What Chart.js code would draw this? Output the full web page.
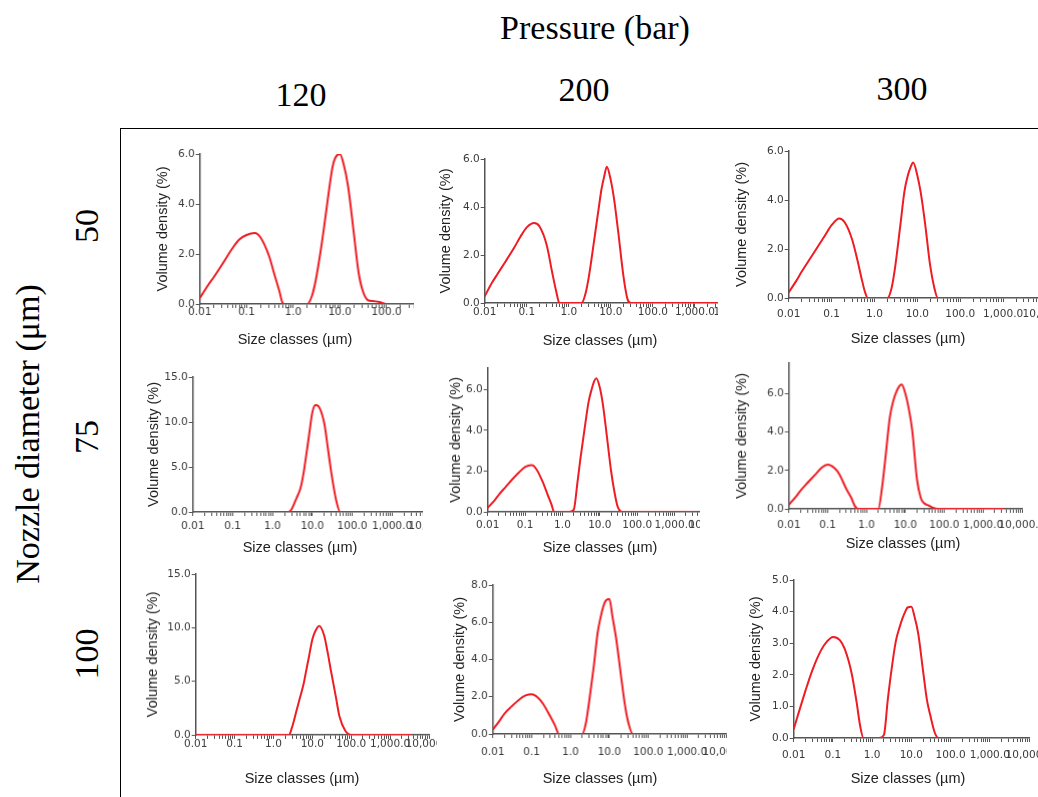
<!DOCTYPE html>
<html>
<head>
<meta charset="utf-8">
<script src="https://cdn.jsdelivr.net/npm/chart.js@4.4.0/dist/chart.umd.min.js"></script>
<style>
    body { margin: 0; background: #fff; width: 1038px; height: 797px; overflow: hidden; position: relative;
           font-family: "Liberation Serif", "Times New Roman", serif; }
    .big { position: absolute; font-size: 34px; line-height: 1; color: #000; white-space: nowrap; transform: translate(-50%, -50%); }
    .rot { transform: translate(-50%, -50%) rotate(-90deg); }
    .frame { position: absolute; left: 120px; top: 128px; width: 1000px; height: 700px;
             border-left: 1.5px solid #000; border-top: 1.5px solid #000; }
    .panel { position: absolute; overflow: hidden; }
    .panel canvas { position: absolute; left: 0; top: 0; }
    .xtitle { position: absolute; font: 14.5px "Liberation Sans", Arial, sans-serif; line-height: 1; color: #222;
              white-space: nowrap; transform: translate(-50%, -50%); }
</style>
</head>
<body>
<div class="frame"></div>
<div class="big" style="left:595px; top:28px;">Pressure (bar)</div>
<div class="big" style="left:301px; top:95px;">120</div>
<div class="big" style="left:584px; top:90px;">200</div>
<div class="big" style="left:902px; top:89px;">300</div>
<div class="big rot" style="left:28px; top:434px;">Nozzle diameter (μm)</div>
<div class="big rot" style="left:87px; top:226px;">50</div>
<div class="big rot" style="left:87px; top:437px;">75</div>
<div class="big rot" style="left:87px; top:654px;">100</div>

<script>
// Size classes (µm), shared by all nine distributions
const sizeClasses = [0.01, 0.015, 0.02, 0.03, 0.05, 0.07, 0.1, 0.15, 0.2, 0.3, 0.4, 0.5, 0.6, 0.7,
    1, 1.5, 2, 2.5, 3, 4, 5, 6, 7, 8, 10, 12, 15, 20, 25, 30, 40, 50, 70, 100, 200, 500, 1000, 3500];

// Volume density (%) — nozzle diameter / pressure
const density_50_120 = [0.24, 0.75, 1.08, 1.58, 2.23, 2.58, 2.76, 2.84, 2.66, 1.95, 1.15, 0.55, 0.03, 0,
    0, 0, 0, 0.3, 0.9, 2.3, 3.6, 4.7, 5.5, 5.85, 6.0, 5.6, 4.7, 2.8, 1.3, 0.6, 0.15, 0.12, 0.08, 0, 0, 0, 0, 0];
const density_50_200 = [0.28, 0.85, 1.2, 1.68, 2.3, 2.75, 3.15, 3.33, 3.2, 2.4, 1.3, 0.5, 0, 0,
    0, 0, 0, 0.4, 1.1, 2.6, 3.8, 4.75, 5.3, 5.68, 5.1, 4.3, 2.95, 1.1, 0.15, 0, 0, 0, 0, 0, 0, 0, 0, 0];
const density_50_300 = [0.23, 0.7, 1.07, 1.55, 2.15, 2.55, 2.97, 3.25, 3.1, 2.4, 1.55, 0.8, 0.25, 0,
    0, 0, 0, 0.4, 1.2, 2.95, 4.35, 5.0, 5.35, 5.53, 5.0, 4.3, 3.1, 1.3, 0.4, 0, 0, 0, 0, 0, 0, 0, 0, 0];
const density_75_120 = [0, 0, 0, 0, 0, 0, 0, 0, 0, 0, 0, 0, 0, 0,
    0, 0, 0, 0, 0.3, 1.55, 2.6, 4.3, 6.3, 8.1, 11.1, 11.9, 11.6, 9.8, 6.8, 4.3, 1.2, 0, 0, 0, 0, 0, 0, 0];
const density_75_200 = [0.2, 0.55, 0.85, 1.22, 1.68, 1.95, 2.2, 2.29, 2.1, 1.45, 0.85, 0.4, 0, 0,
    0, 0, 0.1, 1.4, 2.57, 4.22, 5.4, 6.0, 6.4, 6.55, 6.1, 5.3, 3.9, 2.0, 0.9, 0.25, 0, 0, 0, 0, 0, 0, 0, 0];
const density_75_300 = [0.21, 0.62, 0.95, 1.35, 1.83, 2.15, 2.3, 2.12, 1.8, 1.05, 0.6, 0.15, 0, 0,
    0, 0, 0, 1.1, 2.5, 4.8, 5.7, 6.15, 6.4, 6.49, 6.0, 5.3, 4.1, 1.5, 0.55, 0.3, 0.17, 0.07, 0, 0, 0, 0, 0, 0];
const density_100_120 = [0, 0, 0, 0, 0, 0, 0, 0, 0, 0, 0, 0, 0, 0,
    0, 0, 0, 0, 0.7, 2.4, 3.7, 4.8, 6.06, 7.1, 8.9, 9.7, 10.15, 9.3, 7.6, 6.0, 3.6, 1.7, 0.4, 0, 0, 0, 0, 0];
const density_100_200 = [0.23, 0.72, 1.1, 1.47, 1.88, 2.07, 2.13, 1.92, 1.6, 0.95, 0.45, 0, 0, 0,
    0, 0, 0, 0.6, 1.7, 3.7, 5.45, 6.3, 6.85, 7.15, 7.25, 6.3, 5.1, 3.1, 1.6, 0.7, 0, 0, 0, 0, 0, 0, 0, 0];
const density_100_300 = [0.28, 1.0, 1.5, 2.15, 2.78, 3.05, 3.2, 3.1, 2.82, 2.05, 1.15, 0.35, 0, 0,
    0, 0, 0.1, 1.2, 2.0, 3.05, 3.5, 3.8, 4.0, 4.13, 4.15, 3.85, 3.3, 2.1, 1.2, 0.75, 0.15, 0, 0, 0, 0, 0, 0, 0];

// Axis ticks
const sizeTicks = [0.01, 0.1, 1, 10, 100, 1000, 10000];
const sizeTickLabels = ['0.01', '0.1', '1.0', '10.0', '100.0', '1,000.0', '10,000.0'];

// Panel layout (pixel geometry of each screenshot)
const paneles = [
    { valores: density_50_120, L: 200, T: 154.3, B: 304.3, D: 46.7, yMax: 6, yStep: 2, gy: 37, lab: 8.4, clip: 414, tx: 295, ty: 339.3 },
    { valores: density_50_200, L: 484.3, T: 159, B: 303.3, D: 42.1, yMax: 6, yStep: 2, gy: 39, lab: 9.4, clip: 718, tx: 600, ty: 340 },
    { valores: density_50_300, L: 789, T: 150.7, B: 298.3, D: 42.9, yMax: 6, yStep: 2, gy: 47, lab: 16.7, clip: 1038, tx: 908, ty: 338 },
    { valores: density_75_120, L: 192.7, T: 376.7, B: 511.7, D: 39.8, yMax: 15, yStep: 5, gy: 39, lab: 14, clip: 423, tx: 300, ty: 546.7 },
    { valores: density_75_200, L: 487.3, T: 368.3, B: 512.3, D: 37.5, yMax: 7.06, yStep: 2, gy: 32, lab: 13.4, clip: 700, tx: 600, ty: 546.7 },
    { valores: density_75_300, L: 789, T: 363.3, B: 509, D: 38.8, yMax: 7.6, yStep: 2, gy: 47, lab: 16, clip: 1038, tx: 903, ty: 543.3 },
    { valores: density_100_120, L: 196, T: 574.3, B: 735, D: 38.9, yMax: 15, yStep: 5, gy: 43, lab: 9.3, clip: 437, tx: 302, ty: 778.3 },
    { valores: density_100_200, L: 492.7, T: 585, B: 734.3, D: 38.8, yMax: 8, yStep: 2, gy: 33, lab: 18, clip: 727, tx: 600, ty: 778.3 },
    { valores: density_100_300, L: 793.3, T: 580, B: 738.3, D: 39.3, yMax: 5, yStep: 1, gy: 38, lab: 17.4, clip: 1038, tx: 908, ty: 778.3 }
];

// Minor tick positions 1..9 per decade
const marcasX = [];
for (let i = 0; i < sizeTicks.length - 1; i++) {
    for (let m = 1; m <= 9; m++) marcasX.push(+(sizeTicks[i] * m).toPrecision(6));
}
marcasX.push(sizeTicks[sizeTicks.length - 1]);

const etiquetaX = (v) => {
    const k = sizeTicks.findIndex(t => Math.abs(t - v) / t < 1e-6);
    return k >= 0 ? sizeTickLabels[k] : '';
};

const fuenteTicks = { family: 'DejaVu Sans', size: 10.5 };
const fuenteTitulo = { family: 'Liberation Sans', size: 14.5 };
const PT = 8, PR = 40, XH = 30;

const crearPanel = (p) => {
    const YW = p.gy + fuenteTitulo.size * 1.2 / 2;
    const left = p.L - YW;
    const top = p.T - PT;
    const w = YW + 6 * p.D + PR;
    const h = PT + (p.B - p.T) + XH;

    const div = document.createElement('div');
    div.className = 'panel';
    div.style.left = left + 'px';
    div.style.top = top + 'px';
    div.style.width = (p.clip - left) + 'px';
    div.style.height = (h + 40) + 'px';
    document.body.appendChild(div);

    const canvas = document.createElement('canvas');
    canvas.width = w;
    canvas.height = h;
    canvas.style.width = w + 'px';
    canvas.style.height = h + 'px';
    div.appendChild(canvas);

    const titulo = document.createElement('div');
    titulo.className = 'xtitle';
    titulo.textContent = 'Size classes (µm)';
    titulo.style.left = (p.tx - left) + 'px';
    titulo.style.top = (p.ty - top) + 'px';
    div.appendChild(titulo);

    new Chart(canvas, {
        type: 'line',
        data: {
            datasets: [{
                data: sizeClasses.map((s, i) => ({ x: s, y: p.valores[i] })),
                borderColor: '#ee1d24',
                borderWidth: 2,
                pointRadius: 0,
                cubicInterpolationMode: 'monotone',
                fill: false
            }]
        },
        options: {
            responsive: false,
            animation: false,
            events: [],
            layout: { padding: { left: 0, right: PR, top: PT, bottom: 0 } },
            plugins: { legend: { display: false }, tooltip: { enabled: false } },
            scales: {
                x: {
                    type: 'logarithmic',
                    min: 0.01,
                    max: 10000,
                    afterBuildTicks: (s) => { s.ticks = marcasX.map(v => ({ value: v })); },
                    afterFit: (s) => { s.height = XH; },
                    ticks: {
                        autoSkip: false, maxRotation: 0, minRotation: 0,
                        padding: p.lab - 10.3, color: '#3a3a3a', font: fuenteTicks,
                        callback: (v) => etiquetaX(v)
                    },
                    grid: { drawOnChartArea: false, drawTicks: true, tickLength: 4, tickColor: '#555', tickWidth: 1 },
                    border: { display: true, color: '#555', width: 1.5 }
                },
                y: {
                    min: 0,
                    max: p.yMax,
                    afterFit: (s) => { s.width = YW; },
                    ticks: {
                        stepSize: p.yStep, includeBounds: false, padding: 1,
                        color: '#3a3a3a', font: fuenteTicks,
                        callback: (v) => Number(v).toFixed(1)
                    },
                    grid: { drawOnChartArea: false, drawTicks: true, tickLength: 4, tickColor: '#555', tickWidth: 1 },
                    border: { display: true, color: '#555', width: 1.5 },
                    title: { display: true, text: 'Volume density (%)', padding: 0, color: '#222', font: fuenteTitulo }
                }
            }
        }
    });
};

paneles.forEach(crearPanel);
</script>
</body>
</html>
